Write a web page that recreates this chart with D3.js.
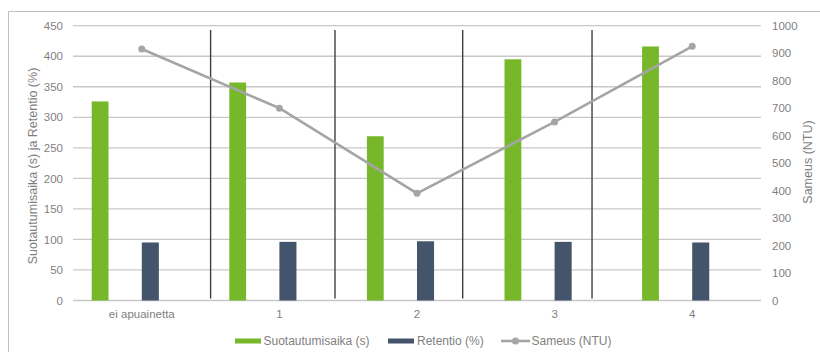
<!DOCTYPE html>
<html>
<head>
<meta charset="utf-8">
<script src="https://cdn.jsdelivr.net/npm/d3@7"></script>
<style>
  html, body { margin: 0; padding: 0; background: #fff; }
  svg { display: block; font-family: "Liberation Sans", Arial, sans-serif; }
</style>
</head>
<body>
<svg id="chart" width="820" height="352"></svg>
<script>
// Categories (filter aid dose) and measured series
const categories = ["ei apuainetta", "1", "2", "3", "4"];
const suotautumisaika = [326, 357, 269, 395, 416];   // seconds
const retentio = [95, 96, 97, 96, 95];               // percent
const sameus = [915, 700, 390, 650, 925];            // NTU

// Axis ticks
const leftTicks = [0, 50, 100, 150, 200, 250, 300, 350, 400, 450];
const rightTicks = [0, 100, 200, 300, 400, 500, 600, 700, 800, 900, 1000];

// Hand-placed group separators, in category units along the x axis
const separators = [1.0, 1.904, 2.832, 3.772];

const seriesNames = ["Suotautumisaika (s)", "Retentio (%)", "Sameus (NTU)"];
const colors = { green: "#77b82a", navy: "#44546a", gray: "#a5a5a5" };

const svg = d3.select("#chart");
const plot = { left: 73, right: 761, top: 25.7, bottom: 300.5 };

// Outer frame
svg.append("path")
  .attr("d", `M8.5,360 V11.5 H830`)
  .attr("fill", "none").attr("stroke", "#bfbfbf").attr("stroke-width", 1);

const x = d3.scaleBand().domain(categories).range([plot.left, plot.right]);
const xCont = d3.scaleLinear().domain([0, categories.length]).range([plot.left, plot.right]);
const yL = d3.scaleLinear().domain([0, 450]).range([plot.bottom, plot.top]);
const yR = d3.scaleLinear().domain([0, 1000]).range([plot.bottom, plot.top]);

// Gridlines
svg.append("g").selectAll("line").data(leftTicks).join("line")
  .attr("x1", plot.left).attr("x2", plot.right)
  .attr("y1", d => yL(d)).attr("y2", d => yL(d))
  .attr("stroke", "#c8c8c8").attr("stroke-width", 1.3);

// Bars
const bw = x.bandwidth();
svg.append("g").selectAll("rect").data(suotautumisaika).join("rect")
  .attr("x", (d, i) => x(categories[i]) + bw * 0.136)
  .attr("width", bw * 0.122)
  .attr("y", d => yL(d)).attr("height", d => yL(0) - yL(d))
  .attr("fill", colors.green);

svg.append("g").selectAll("rect").data(retentio).join("rect")
  .attr("x", (d, i) => x(categories[i]) + bw * 0.5)
  .attr("width", bw * 0.124)
  .attr("y", d => yL(d)).attr("height", d => yL(0) - yL(d))
  .attr("fill", colors.navy);

// Separator lines
svg.append("g").selectAll("line").data(separators).join("line")
  .attr("x1", d => xCont(d)).attr("x2", d => xCont(d))
  .attr("y1", 30).attr("y2", 298.5)
  .attr("stroke", "#404040").attr("stroke-width", 1.4);

// Turbidity line
const lineGen = d3.line()
  .x((d, i) => x(categories[i]) + bw / 2)
  .y(d => yR(d));
svg.append("path").datum(sameus)
  .attr("d", lineGen)
  .attr("fill", "none").attr("stroke", colors.gray).attr("stroke-width", 2.6)
  .attr("stroke-linejoin", "round");
svg.append("g").selectAll("circle").data(sameus).join("circle")
  .attr("cx", (d, i) => x(categories[i]) + bw / 2)
  .attr("cy", d => yR(d)).attr("r", 3.5)
  .attr("fill", colors.gray);

// Axes
const tickColor = "#7f7f7f";
const gL = svg.append("g").attr("transform", `translate(${plot.left},0)`)
  .call(d3.axisLeft(yL).tickValues(leftTicks).tickFormat(d3.format("d")).tickSize(0).tickPadding(10));
const gR = svg.append("g").attr("transform", `translate(${plot.right},0)`)
  .call(d3.axisRight(yR).tickValues(rightTicks).tickFormat(d3.format("d")).tickSize(0).tickPadding(11));
const gX = svg.append("g").attr("transform", `translate(0,${plot.bottom})`)
  .call(d3.axisBottom(x).tickSize(0).tickPadding(9));
[gL, gR, gX].forEach(g => {
  g.select(".domain").remove();
  g.selectAll("text").attr("fill", tickColor)
    .style("font-size", "11.5px").style("font-family", "Liberation Sans, Arial, sans-serif");
});

// Axis titles
svg.append("text")
  .attr("transform", `translate(37,166) rotate(-90)`)
  .attr("text-anchor", "middle")
  .attr("fill", tickColor).style("font-size", "12.5px")
  .text("Suotautumisaika (s) ja Retentio (%)");
svg.append("text")
  .attr("transform", `translate(812,162) rotate(-90)`)
  .attr("text-anchor", "middle")
  .attr("fill", tickColor).style("font-size", "12.5px")
  .text("Sameus (NTU)");

// Legend
const legendY = 341;
const lg = svg.append("g");
lg.append("rect").attr("x", 235).attr("y", legendY - 2.5).attr("width", 26).attr("height", 5).attr("fill", colors.green);
lg.append("text").attr("x", 263.5).attr("y", legendY).attr("dy", "0.35em")
  .attr("fill", tickColor).style("font-size", "12px").text(seriesNames[0]);
lg.append("rect").attr("x", 388).attr("y", legendY - 2.5).attr("width", 26).attr("height", 5).attr("fill", colors.navy);
lg.append("text").attr("x", 417).attr("y", legendY).attr("dy", "0.35em")
  .attr("fill", tickColor).style("font-size", "12px").text(seriesNames[1]);
lg.append("line").attr("x1", 501).attr("x2", 530).attr("y1", legendY).attr("y2", legendY)
  .attr("stroke", colors.gray).attr("stroke-width", 2.6);
lg.append("circle").attr("cx", 515.5).attr("cy", legendY).attr("r", 3.5).attr("fill", colors.gray);
lg.append("text").attr("x", 531.5).attr("y", legendY).attr("dy", "0.35em")
  .attr("fill", tickColor).style("font-size", "12px").text(seriesNames[2]);
</script>
</body>
</html>
